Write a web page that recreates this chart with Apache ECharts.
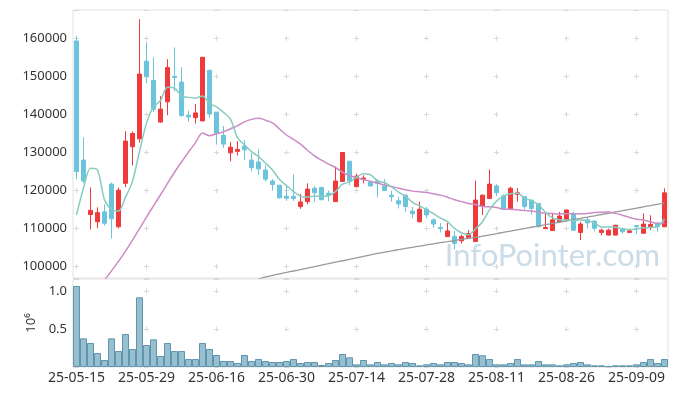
<!DOCTYPE html>
<html><head><meta charset="utf-8">
<script src="https://cdn.jsdelivr.net/npm/echarts@6/dist/echarts.min.js"></script>
<style>html,body{margin:0;padding:0;background:#fff}#c{width:677px;height:396px}</style>
</head><body><div id="c"></div>
<script>
const dates = ['25-05-15','25-05-16','25-05-19','25-05-20','25-05-21','25-05-22','25-05-23','25-05-26','25-05-27','25-05-28',
'25-05-29','25-05-30','25-06-02','25-06-04','25-06-05','25-06-09','25-06-10','25-06-11','25-06-12','25-06-13',
'25-06-16','25-06-17','25-06-18','25-06-19','25-06-20','25-06-23','25-06-24','25-06-25','25-06-26','25-06-27',
'25-06-30','25-07-01','25-07-02','25-07-03','25-07-04','25-07-07','25-07-08','25-07-09','25-07-10','25-07-11',
'25-07-14','25-07-15','25-07-16','25-07-17','25-07-18','25-07-21','25-07-22','25-07-23','25-07-24','25-07-25',
'25-07-28','25-07-29','25-07-30','25-07-31','25-08-01','25-08-04','25-08-05','25-08-06','25-08-07','25-08-08',
'25-08-11','25-08-12','25-08-13','25-08-14','25-08-18','25-08-19','25-08-20','25-08-21','25-08-22','25-08-25',
'25-08-26','25-08-27','25-08-28','25-08-29','25-09-01','25-09-02','25-09-03','25-09-04','25-09-05','25-09-08',
'25-09-09','25-09-10','25-09-11','25-09-12','25-09-15'];

const opens = [159300,128000,113700,111800,114400,121700,110500,121900,131500,133600,
154000,148900,138000,143300,150000,148500,139800,139150,138300,151600,
140600,134500,129900,130300,131700,128000,127500,125400,122500,121400,
118500,118500,115800,117100,120600,120800,119300,117100,122400,127700,
121000,122900,122300,122500,121200,118800,117300,118800,114600,111800,
115100,112300,110300,107900,108000,106800,107700,106600,115800,117900,
121200,118600,115000,119000,118400,117500,116600,110000,109500,111800,
112300,114000,109000,112300,112000,109000,108300,108300,110000,109000,
110800,108800,110500,111400,110500];
const closes = [125000,122500,114800,114200,111400,112600,120100,133000,135000,150600,
149900,141350,141400,152300,149700,139700,139300,140400,155000,140100,
135000,132200,131400,130800,130700,126000,125700,123000,121600,118100,
118000,117900,117000,120400,119400,117600,118800,122500,130000,122500,
123800,123300,121200,121900,120000,118400,116500,115800,113900,115100,
113600,111200,110000,109400,106100,107900,108700,117500,118800,121700,
119400,115300,120600,119400,115800,115300,110500,110300,112300,113300,
114900,109600,111200,111500,110100,109600,109600,110900,109200,109400,
110500,111200,111100,110500,119400];
const lows = [123000,122000,109800,110100,110800,107400,110100,120900,126600,132600,
148200,140600,137800,139800,146000,139400,138100,137600,138300,139100,
132100,131200,127700,129200,128000,125000,124100,122300,120000,117900,
117300,117300,115200,116400,117000,117400,117200,117000,122300,121400,
121000,121900,121100,118200,119900,117100,115300,114400,112700,111600,
112700,110200,109000,107800,104600,106100,107700,106500,113600,117900,
118500,115200,115000,117100,115000,113600,110300,110000,109500,111800,
111800,109400,107000,110000,109300,108300,108300,108200,108700,108900,
108600,108600,109600,109200,110400];
const highs = [160600,134000,120800,115600,116400,122100,120800,135600,135500,165000,
159000,155000,144800,154500,157600,152400,141000,142700,155100,151700,
140600,137000,132700,133000,133300,129800,130800,126700,123000,121500,
121400,124300,119100,121900,121200,121000,120000,126300,130100,127800,
124500,124000,122700,123000,123000,120000,118400,118900,115700,117100,
115700,112700,111500,111500,109400,108400,109600,122600,118900,125500,
121700,119000,121000,120600,118400,117600,116700,114000,114000,114400,
115000,114400,111800,112900,112100,110000,110000,111000,110300,109600,
110900,114000,113500,111800,120600];
const volumes = [1066000,377000,316000,184000,92000,377000,210000,434000,237000,917000,
289000,364000,145000,316000,210000,210000,105000,105000,316000,237000,
158000,79000,79000,53000,158000,79000,105000,79000,66000,66000,
79000,105000,53000,66000,66000,26000,53000,92000,171000,127000,
35000,92000,35000,66000,35000,53000,35000,66000,53000,22000,
35000,53000,35000,66000,66000,53000,35000,171000,154000,105000,
35000,35000,53000,105000,35000,35000,79000,35000,35000,22000,
35000,53000,66000,35000,22000,22000,9000,22000,22000,22000,
35000,66000,105000,53000,105000];
// moving-average values read off the picture where earlier history is not shown
const ma5Head = [113600,120600,125850,125400];
const ma20Head = [null,null,null,null,96500,98900,101400,104100,107000,110000,
113000,116000,118900,121900,124800,127500,130100,132600,135100];
const maLong = [null,null,null,null,null,null,null,null,null,null,
null,null,null,null,null,null,null,null,null,null,
null,null,null,null,null,null,96750,97330,97710,98100,
98480,98870,99250,99640,100020,100410,100790,101180,101560,101950,
102330,102720,103100,103470,103810,104150,104480,104790,105100,105410,
105710,106020,106330,106600,106880,107160,107430,107710,108010,108350,
108680,109020,109350,109690,110020,110360,110690,111030,111360,111700,
112030,112370,112700,113040,113370,113710,114040,114380,114710,115050,
115380,115720,116050,116390,116720];
const yTickLabels = ['100000','110000','120000','130000','140000','150000','160000'];

function movingAvg(n, head) {
  return closes.map(function (c, i) {
    if (i < n - 1) return head[i];
    let s = 0;
    for (let k = i - n + 1; k <= i; k++) s += closes[k];
    return Math.round(s / n);
  });
}
const ma5 = movingAvg(5, ma5Head);
const ma20 = movingAvg(20, ma20Head);

const gl = '#d9d9d9';
const chart = echarts.init(document.getElementById('c'));
chart.setOption({
  animation: false,
  backgroundColor: '#fff',
  textStyle: {fontFamily: 'Noto Sans'},
  grid: [
    {left: 73, top: 10, width: 595, height: 268, show: true, borderColor: '#e2e2e2', borderWidth: 1},
    {left: 73, top: 279, width: 595, height: 88, show: true, borderColor: '#e2e2e2', borderWidth: 1}
  ],
  xAxis: [
    {type: 'category', gridIndex: 0, data: dates, boundaryGap: true,
     axisLine: {show: false}, axisTick: {show: false}, axisLabel: {show: false},
     splitLine: {show: true, interval: 9, alignWithLabel: true,
       lineStyle: {color: gl, width: 1, type: [5, 33.07], dashOffset: 12.27}}},
    {type: 'category', gridIndex: 1, data: dates, boundaryGap: true,
     axisLine: {show: false}, axisTick: {show: false},
     axisLabel: {interval: 9, fontSize: 14, color: '#333', margin: 4, fontFamily: 'Noto Sans'},
     splitLine: {show: true, interval: 9, alignWithLabel: true,
       lineStyle: {color: gl, width: 1, type: [5, 33], dashOffset: 28.5}}}
  ],
  yAxis: [
    {type: 'value', gridIndex: 0, min: 97030, max: 167430, minInterval: 10000, maxInterval: 10000,
     axisLine: {show: false}, axisTick: {show: false},
     axisLabel: {showMinLabel: false, showMaxLabel: false, fontSize: 13, color: '#333', margin: 6,
       formatter: function (v) { const s = String(v); return yTickLabels.indexOf(s) >= 0 ? s : ''; }},
     splitLine: {show: true, lineStyle: {color: gl, width: 1, type: [5, 65], dashOffset: 69}}},
    {type: 'value', gridIndex: 1, min: 0, max: 1158000, interval: 500000,
     axisLine: {show: false}, axisTick: {show: false},
     axisLabel: {showMinLabel: false, showMaxLabel: false, fontSize: 13, color: '#333', margin: 6,
       formatter: function (v) { return (v / 1e6).toFixed(1); }},
     name: '10⁶', nameLocation: 'middle', nameRotate: 90, nameGap: 33,
     nameTextStyle: {fontSize: 13, color: '#333', fontFamily: 'Noto Sans'},
     splitLine: {show: true, lineStyle: {color: gl, width: 1, type: [5, 65], dashOffset: 69}}}
  ],
  graphic: [{
    type: 'text', z: 100, silent: true,
    style: {x: 660, y: 256, text: 'InfoPointer.com', textAlign: 'right', textVerticalAlign: 'middle',
      font: '31px Lato', fill: 'rgba(150,185,210,0.5)'}
  }],
  series: [
    {type: 'candlestick', xAxisIndex: 0, yAxisIndex: 0, barWidth: 4,
     data: dates.map(function (d, i) { return [opens[i], closes[i], lows[i], highs[i]]; }),
     itemStyle: {color: '#ee3a3a', color0: '#6cc4dc', borderColor: '#ee3a3a', borderColor0: '#6cc4dc', borderWidth: 1}},
    {type: 'line', xAxisIndex: 0, yAxisIndex: 0, data: maLong, showSymbol: false, smooth: 0.2,
     lineStyle: {color: '#999999', width: 1.3}},
    {type: 'line', xAxisIndex: 0, yAxisIndex: 0, data: ma20, showSymbol: false, smooth: 0.3,
     lineStyle: {color: '#cc8cc6', width: 1.5}},
    {type: 'line', xAxisIndex: 0, yAxisIndex: 0, data: ma5, showSymbol: false, smooth: 0.3,
     lineStyle: {color: '#88cbbf', width: 1.5}},
    {type: 'bar', xAxisIndex: 1, yAxisIndex: 1, data: volumes, barCategoryGap: '0%',
     itemStyle: {color: '#97bfcf', borderColor: '#5f95ad', borderWidth: 1}}
  ]
});
</script>
</body></html>
